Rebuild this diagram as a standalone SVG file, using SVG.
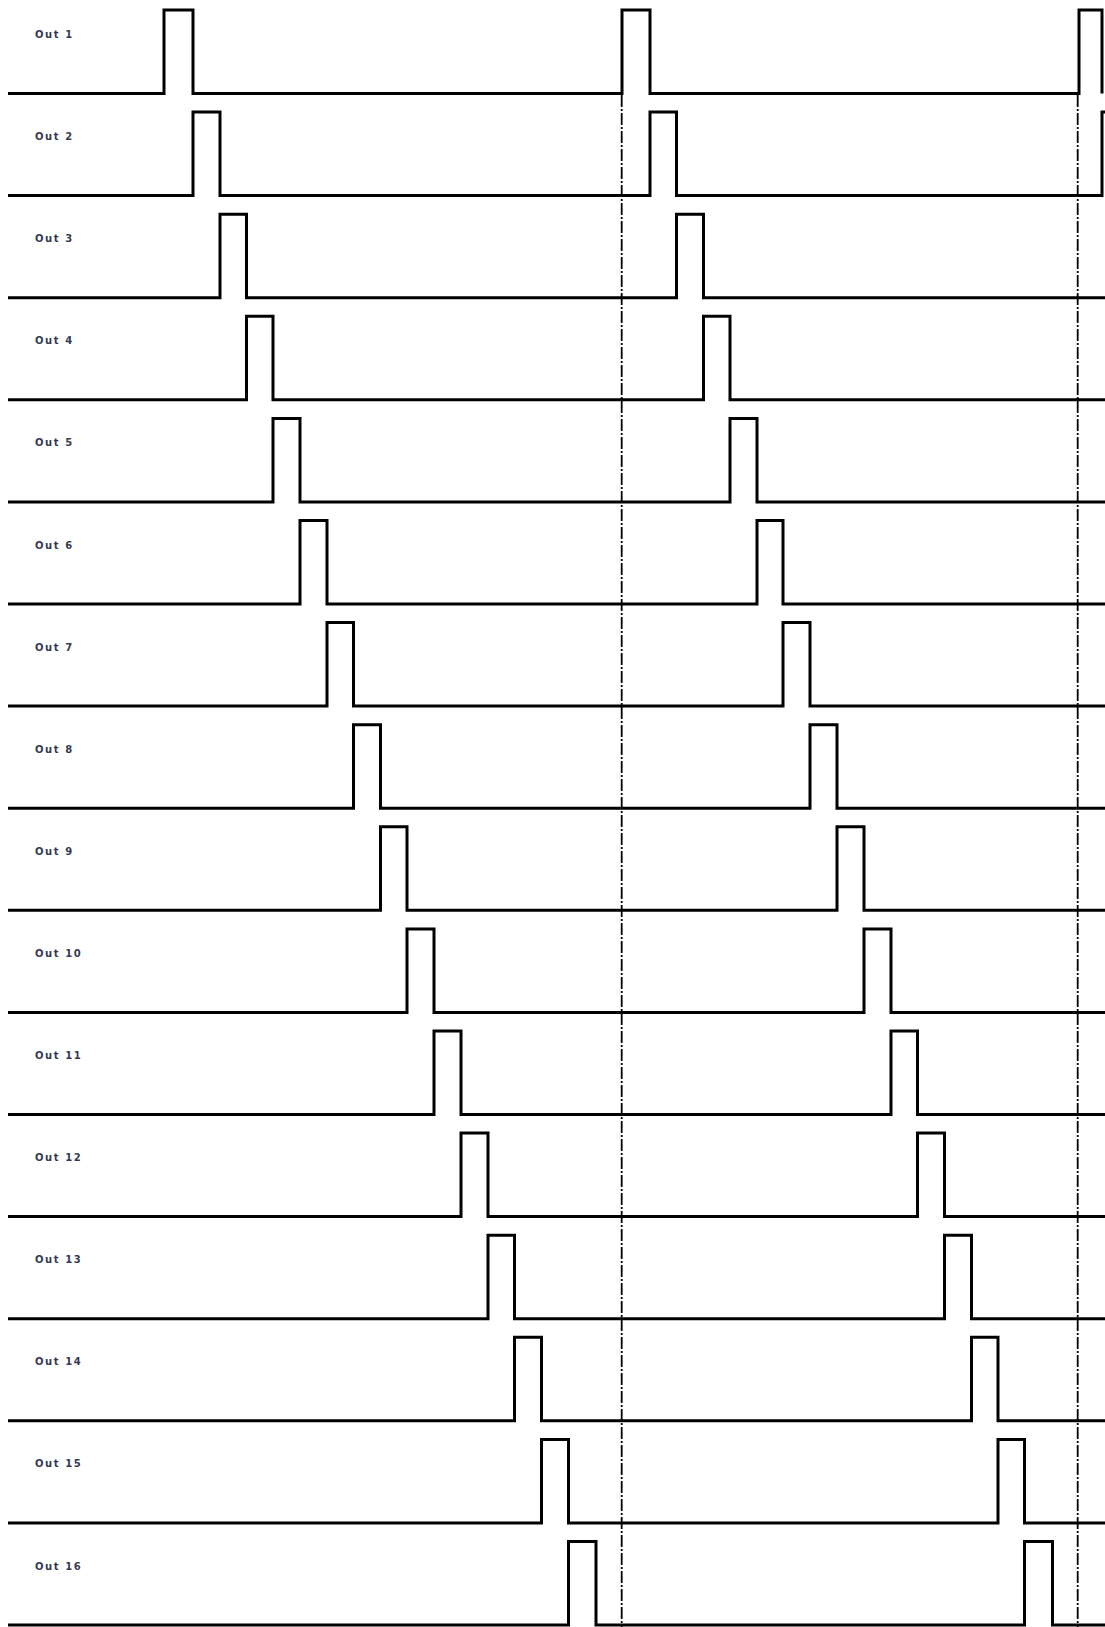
<svg xmlns="http://www.w3.org/2000/svg" width="1105" height="1627" viewBox="0 0 1105 1627">
<style>
.bg{fill:#fff}
.wave{fill:none;stroke:#000;stroke-width:3;stroke-linejoin:miter;stroke-linecap:butt}
.lbl{font-family:"DejaVu Sans",sans-serif;font-weight:bold;font-size:10px;letter-spacing:1.6px;fill:#343a52}
.guide{fill:none;stroke:#000;stroke-width:1.8;stroke-dasharray:12 2 2 2}
</style>
<rect class="bg" x="0" y="0" width="1105" height="1627"/>
<g id="connectors">
<line class="guide" x1="621.7" y1="95" x2="621.7" y2="1627"/>
<line class="guide" x1="1077.7" y1="95" x2="1077.7" y2="1627"/>
</g>
<g id="out1"><text class="lbl" x="35" y="38">Out 1</text>
<polyline class="wave" points="8,93.5 164,93.5 164,10 193,10 193,93.5 622,93.5 622,10 650,10 650,93.5 1079,93.5 1079,10 1102,10 1102,93.5"/></g>
<g id="out2"><text class="lbl" x="35" y="140.1">Out 2</text>
<polyline class="wave" points="8,195.6 193,195.6 193,112.1 220,112.1 220,195.6 650,195.6 650,112.1 676.5,112.1 676.5,195.6 1102,195.6 1102,112.1 1110,112.1"/></g>
<g id="out3"><text class="lbl" x="35" y="242.2">Out 3</text>
<polyline class="wave" points="8,297.7 220,297.7 220,214.2 246.5,214.2 246.5,297.7 676.5,297.7 676.5,214.2 703.5,214.2 703.5,297.7 1105,297.7"/></g>
<g id="out4"><text class="lbl" x="35" y="344.3">Out 4</text>
<polyline class="wave" points="8,399.8 246.5,399.8 246.5,316.3 273,316.3 273,399.8 703.5,399.8 703.5,316.3 730,316.3 730,399.8 1105,399.8"/></g>
<g id="out5"><text class="lbl" x="35" y="446.4">Out 5</text>
<polyline class="wave" points="8,501.9 273,501.9 273,418.4 300,418.4 300,501.9 730,501.9 730,418.4 757,418.4 757,501.9 1105,501.9"/></g>
<g id="out6"><text class="lbl" x="35" y="548.5">Out 6</text>
<polyline class="wave" points="8,604 300,604 300,520.5 327,520.5 327,604 757,604 757,520.5 783,520.5 783,604 1105,604"/></g>
<g id="out7"><text class="lbl" x="35" y="650.6">Out 7</text>
<polyline class="wave" points="8,706.1 327,706.1 327,622.6 353.5,622.6 353.5,706.1 783,706.1 783,622.6 810,622.6 810,706.1 1105,706.1"/></g>
<g id="out8"><text class="lbl" x="35" y="752.7">Out 8</text>
<polyline class="wave" points="8,808.2 353.5,808.2 353.5,724.7 380.5,724.7 380.5,808.2 810,808.2 810,724.7 837,724.7 837,808.2 1105,808.2"/></g>
<g id="out9"><text class="lbl" x="35" y="854.8">Out 9</text>
<polyline class="wave" points="8,910.3 380.5,910.3 380.5,826.8 407,826.8 407,910.3 837,910.3 837,826.8 864,826.8 864,910.3 1105,910.3"/></g>
<g id="out10"><text class="lbl" x="35" y="956.9">Out 10</text>
<polyline class="wave" points="8,1012.4 407,1012.4 407,928.9 434,928.9 434,1012.4 864,1012.4 864,928.9 891,928.9 891,1012.4 1105,1012.4"/></g>
<g id="out11"><text class="lbl" x="35" y="1059">Out 11</text>
<polyline class="wave" points="8,1114.5 434,1114.5 434,1031 461,1031 461,1114.5 891,1114.5 891,1031 917.5,1031 917.5,1114.5 1105,1114.5"/></g>
<g id="out12"><text class="lbl" x="35" y="1161.1">Out 12</text>
<polyline class="wave" points="8,1216.6 461,1216.6 461,1133.1 488,1133.1 488,1216.6 917.5,1216.6 917.5,1133.1 944.5,1133.1 944.5,1216.6 1105,1216.6"/></g>
<g id="out13"><text class="lbl" x="35" y="1263.2">Out 13</text>
<polyline class="wave" points="8,1318.7 488,1318.7 488,1235.2 514.5,1235.2 514.5,1318.7 944.5,1318.7 944.5,1235.2 971.5,1235.2 971.5,1318.7 1105,1318.7"/></g>
<g id="out14"><text class="lbl" x="35" y="1365.3">Out 14</text>
<polyline class="wave" points="8,1420.8 514.5,1420.8 514.5,1337.3 541.5,1337.3 541.5,1420.8 971.5,1420.8 971.5,1337.3 998,1337.3 998,1420.8 1105,1420.8"/></g>
<g id="out15"><text class="lbl" x="35" y="1467.4">Out 15</text>
<polyline class="wave" points="8,1522.9 541.5,1522.9 541.5,1439.4 568.5,1439.4 568.5,1522.9 998,1522.9 998,1439.4 1024.5,1439.4 1024.5,1522.9 1105,1522.9"/></g>
<g id="out16"><text class="lbl" x="35" y="1569.5">Out 16</text>
<polyline class="wave" points="8,1625 568.5,1625 568.5,1541.5 596,1541.5 596,1625 1024.5,1625 1024.5,1541.5 1052.5,1541.5 1052.5,1625 1105,1625"/></g>
</svg>
